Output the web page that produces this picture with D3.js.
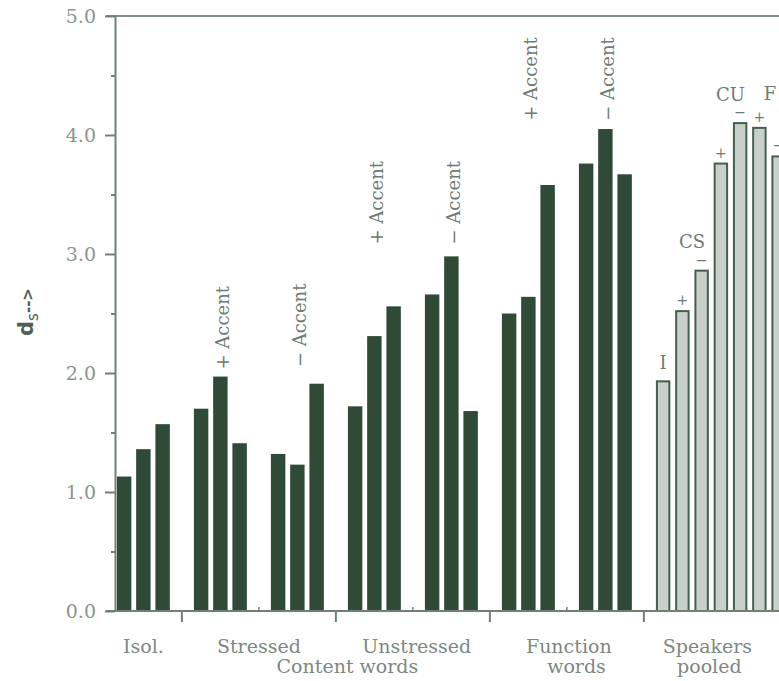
<!DOCTYPE html>
<html>
<head>
<meta charset="utf-8">
<script src="https://cdn.jsdelivr.net/npm/d3@7"></script>
<style>
  html, body { margin: 0; padding: 0; background: #ffffff; }
  svg { display: block; }
</style>
</head>
<body>
<svg id="chart" width="779" height="681"></svg>
<script>
// d_s values per condition, three speakers per cluster
const isol            = [1.13, 1.36, 1.57];
const stressedPlus    = [1.70, 1.97, 1.41];
const stressedMinus   = [1.32, 1.23, 1.91];
const unstressedPlus  = [1.72, 2.31, 2.56];
const unstressedMinus = [2.66, 2.98, 1.68];
const functionPlus    = [2.50, 2.64, 3.58];
const functionMinus   = [3.76, 4.05, 3.67];

// speakers pooled: isolation, content stressed, content unstressed, function (+/- accent)
const pooledLabels = ["I", "CS+", "CS−", "CU+", "CU−", "F+", "F−"];
const pooledValues = [1.93, 2.52, 2.86, 3.76, 4.10, 4.06, 3.82];

const yTickValues = [0, 1, 2, 3, 4, 5];
const yTickLabels = ["0.0", "1.0", "2.0", "3.0", "4.0", "5.0"];
const accentLabels = ["+ Accent", "− Accent"];

const svg = d3.select("#chart");
const W = 779, H = 681;

const DARK = "#2f4b37";
const AXIS = "#6f8077";
const TEXT = "#7d8882";

// clusters in drawing order; a blank slot follows each cluster
const clusters = [
  { id: "isol", values: isol, pooled: false },
  { id: "sp", values: stressedPlus, pooled: false },
  { id: "sm", values: stressedMinus, pooled: false },
  { id: "up", values: unstressedPlus, pooled: false },
  { id: "um", values: unstressedMinus, pooled: false },
  { id: "fp", values: functionPlus, pooled: false },
  { id: "fm", values: functionMinus, pooled: false },
  { id: "pool", values: pooledValues, pooled: true }
];

const slots = [];
const bars = [];
const gaps = [];
clusters.forEach((c, ci) => {
  c.values.forEach((v, i) => {
    const key = c.id + "-" + i;
    slots.push(key);
    bars.push({ key, value: v, cluster: c.id, idx: i, pooled: c.pooled });
  });
  const g = "gap-" + ci;
  slots.push(g);
  gaps.push({ key: g, ci });
});

const x = d3.scaleBand()
  .domain(slots)
  .range([114.5, 114.5 + slots.length * 19.25])
  .paddingInner(0.25)
  .paddingOuter(0.125);
const xc = k => x(k) + x.bandwidth() / 2;
const step = x.step();
const slotX = s => xc(slots[0]) + s * step;

const y = d3.scaleLinear().domain([0, 5]).range([611, 16]);

// ---- bars ----
svg.append("g")
  .selectAll("rect")
  .data(bars.filter(d => !d.pooled))
  .join("rect")
  .attr("x", d => x(d.key))
  .attr("width", x.bandwidth())
  .attr("y", d => y(d.value))
  .attr("height", d => y(0) - y(d.value))
  .attr("fill", DARK);

svg.append("g")
  .selectAll("rect")
  .data(bars.filter(d => d.pooled))
  .join("rect")
  .attr("x", d => x(d.key) + 1)
  .attr("width", x.bandwidth() - 2)
  .attr("y", d => y(d.value))
  .attr("height", d => y(0) - y(d.value))
  .attr("fill", "#c8d0c9")
  .attr("stroke", "#46604d")
  .attr("stroke-width", 2);

// ---- frame and axes ----
svg.append("line")
  .attr("x1", 106).attr("x2", W)
  .attr("y1", y(5)).attr("y2", y(5))
  .attr("stroke", "#7f8e86").attr("stroke-width", 2);

svg.append("line")
  .attr("x1", 106).attr("x2", W)
  .attr("y1", y(0)).attr("y2", y(0))
  .attr("stroke", AXIS).attr("stroke-width", 2);

const yAxis = d3.axisLeft(y)
  .tickValues(yTickValues)
  .tickFormat((d, i) => yTickLabels[i])
  .tickSize(10)
  .tickSizeOuter(0)
  .tickPadding(9);

const yg = svg.append("g")
  .attr("transform", "translate(115,0)")
  .call(yAxis);
yg.select(".domain").attr("stroke", AXIS).attr("stroke-width", 2);
yg.selectAll(".tick line").attr("stroke", AXIS).attr("stroke-width", 2);
yg.selectAll(".tick text")
  .attr("fill", "#8a958f")
  .style("font-family", "'DejaVu Serif', serif")
  .style("font-size", "19px");

// half-unit minor ticks
const minor = d3.axisLeft(y)
  .tickValues([0.5, 1.5, 2.5, 3.5, 4.5])
  .tickFormat("")
  .tickSize(4)
  .tickSizeOuter(0);
const mg = svg.append("g").attr("transform", "translate(115,0)").call(minor);
mg.select(".domain").remove();
mg.selectAll(".tick line").attr("stroke", AXIS).attr("stroke-width", 2);

// x ticks in the blank slots: long ones between groups, short ones inside groups
const boundary = gaps.filter(g => g.ci % 2 === 0 && g.ci < 7);
const inner = gaps.filter(g => g.ci % 2 === 1);
svg.append("g").selectAll("line")
  .data(boundary).join("line")
  .attr("x1", d => xc(d.key)).attr("x2", d => xc(d.key))
  .attr("y1", y(0)).attr("y2", y(0) + 11)
  .attr("stroke", AXIS).attr("stroke-width", 2);
svg.append("g").selectAll("line")
  .data(inner).join("line")
  .attr("x1", d => xc(d.key)).attr("x2", d => xc(d.key))
  .attr("y1", y(0)).attr("y2", y(0) - 4)
  .attr("stroke", AXIS).attr("stroke-width", 1.5);

// ---- y axis title ----
const yt = svg.append("text")
  .attr("transform", `translate(33,${312}) rotate(-90)`)
  .attr("text-anchor", "middle")
  .attr("fill", "#4f6056")
  .style("font-family", "'DejaVu Sans', sans-serif");
yt.append("tspan").text("d").style("font-size", "21px").style("font-weight", "bold");
yt.append("tspan").text("s").attr("dy", 5).style("font-size", "15px");
yt.append("tspan").text("-->").attr("dy", -5).style("font-size", "15px").style("font-weight", "bold");

// ---- rotated accent annotations over the middle bar of each cluster ----
const accentAnchors = [
  { cluster: "sp", label: accentLabels[0], at: 2.03 },
  { cluster: "sm", label: accentLabels[1], at: 2.05 },
  { cluster: "up", label: accentLabels[0], at: 3.08 },
  { cluster: "um", label: accentLabels[1], at: 3.08 },
  { cluster: "fp", label: accentLabels[0], at: 4.12 },
  { cluster: "fm", label: accentLabels[1], at: 4.12 }
];
svg.append("g").selectAll("text")
  .data(accentAnchors).join("text")
  .attr("transform", d => `translate(${xc(d.cluster + "-1") + 2},${y(d.at)}) rotate(-90)`)
  .attr("text-anchor", "start")
  .attr("dominant-baseline", "central")
  .attr("fill", "#6e7b74")
  .style("font-family", "'DejaVu Serif', serif")
  .style("font-size", "18px")
  .text(d => d.label);

// ---- pooled bar annotations ----
const signs = pooledLabels.map((l, i) => ({ key: "pool-" + i, value: pooledValues[i], sign: l.slice(-1) }))
  .filter(d => d.sign === "+" || d.sign === "−");
svg.append("g").selectAll("text")
  .data(signs).join("text")
  .attr("x", d => xc(d.key))
  .attr("y", d => y(d.value) - 6)
  .attr("text-anchor", "middle")
  .attr("fill", "#6e7b74")
  .style("font-family", "'DejaVu Serif', serif")
  .style("font-size", "14px")
  .text(d => d.sign);

const groupTags = [
  { text: "I", keys: ["pool-0"], value: pooledValues[0], lift: 12 },
  { text: "CS", keys: ["pool-1", "pool-2"], value: pooledValues[2], lift: 23 },
  { text: "CU", keys: ["pool-3", "pool-4"], value: pooledValues[4], lift: 22 },
  { text: "F", keys: ["pool-5", "pool-6"], value: pooledValues[5], lift: 28 }
];
svg.append("g").selectAll("text")
  .data(groupTags).join("text")
  .attr("x", d => d3.mean(d.keys, xc) + (d.text === "F" ? 1 : 0))
  .attr("y", d => y(d.value) - d.lift)
  .attr("text-anchor", "middle")
  .attr("fill", "#6e7b74")
  .style("font-family", "'DejaVu Serif', serif")
  .style("font-size", "18px")
  .text(d => d.text);

// ---- category labels under the axis ----
const catLabels = [
  { text: "Isol.", s: 1.0, row: 0 },
  { text: "Stressed", s: 7.0, row: 0 },
  { text: "Unstressed", s: 15.2, row: 0 },
  { text: "Content words", s: 11.6, row: 1 },
  { text: "Function", s: 23.1, row: 0 },
  { text: "words", s: 23.5, row: 1 },
  { text: "Speakers", s: 30.3, row: 0 },
  { text: "pooled", s: 30.4, row: 1 }
];
svg.append("g").selectAll("text")
  .data(catLabels).join("text")
  .attr("x", d => slotX(d.s))
  .attr("y", d => d.row === 0 ? 653 : 673)
  .attr("text-anchor", "middle")
  .attr("fill", TEXT)
  .style("font-family", "'DejaVu Serif', serif")
  .style("font-size", "19px")
  .text(d => d.text);
</script>
</body>
</html>
